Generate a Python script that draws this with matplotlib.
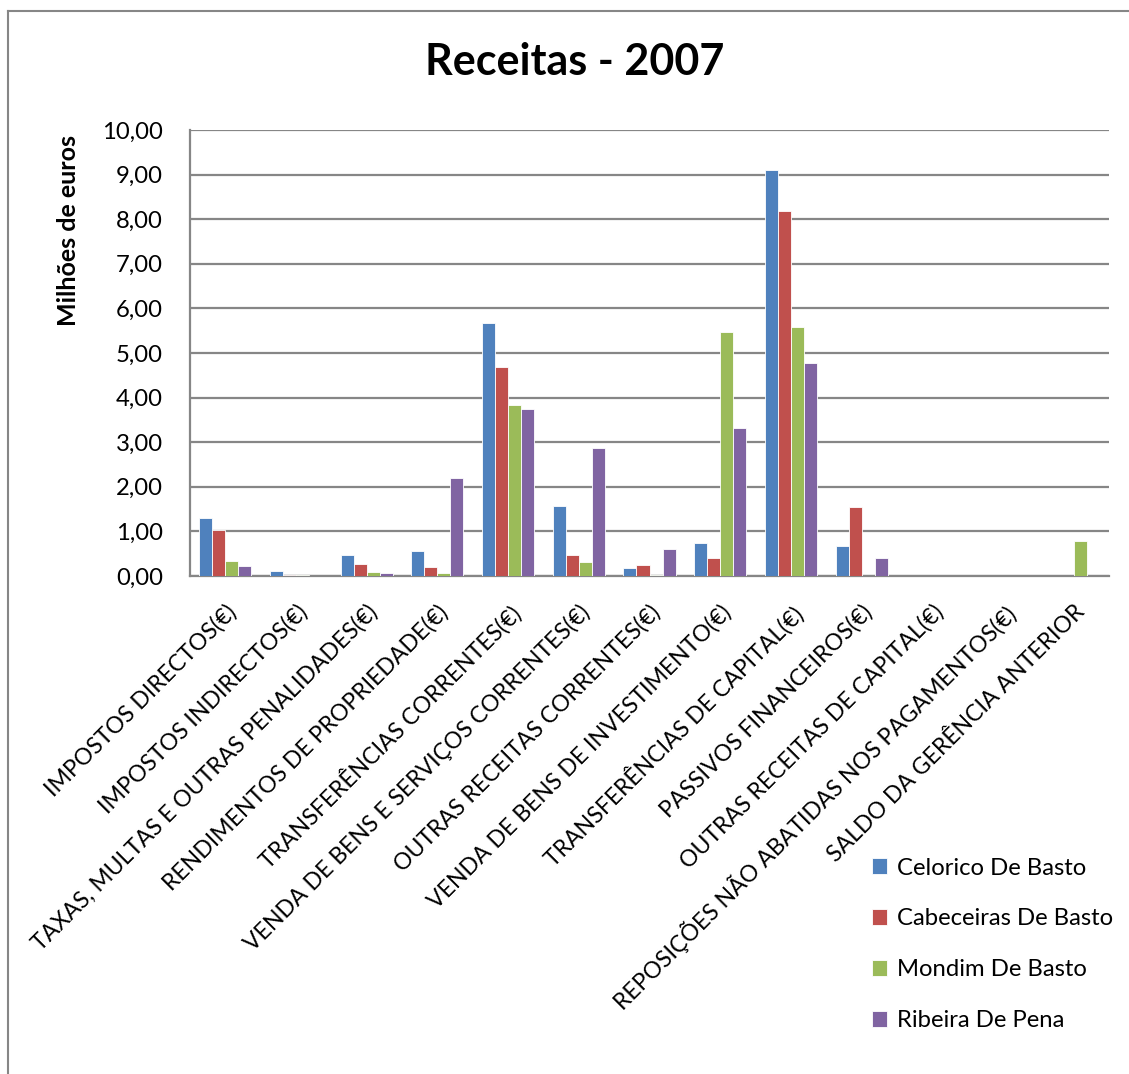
import numpy as np
import matplotlib
matplotlib.use("Agg")
import matplotlib.pyplot as plt
from matplotlib.lines import Line2D

plt.rcParams['font.family'] = ['Lato', 'DejaVu Sans']

# Data (millions of euros)
categories = [
    "IMPOSTOS DIRECTOS(€)",
    "IMPOSTOS INDIRECTOS(€)",
    "TAXAS, MULTAS E OUTRAS PENALIDADES(€)",
    "RENDIMENTOS DE PROPRIEDADE(€)",
    "TRANSFERÊNCIAS CORRENTES(€)",
    "VENDA DE BENS E SERVIÇOS CORRENTES(€)",
    "OUTRAS RECEITAS CORRENTES(€)",
    "VENDA DE BENS DE INVESTIMENTO(€)",
    "TRANSFERÊNCIAS DE CAPITAL(€)",
    "PASSIVOS FINANCEIROS(€)",
    "OUTRAS RECEITAS DE CAPITAL(€)",
    "REPOSIÇÕES NÃO ABATIDAS NOS PAGAMENTOS(€)",
    "SALDO DA GERÊNCIA ANTERIOR",
]
series_names = ["Celorico De Basto", "Cabeceiras De Basto", "Mondim De Basto", "Ribeira De Pena"]
celorico   = [1.30, 0.12, 0.47, 0.55, 5.67, 1.58, 0.17, 0.73, 9.10, 0.68, 0.00, 0.00, 0.00]
cabeceiras = [1.03, 0.03, 0.27, 0.21, 4.69, 0.46, 0.25, 0.40, 8.18, 1.55, 0.00, 0.00, 0.00]
mondim     = [0.34, 0.02, 0.08, 0.07, 3.83, 0.31, 0.03, 5.47, 5.59, 0.00, 0.00, 0.00, 0.79]
ribeira    = [0.23, 0.01, 0.06, 2.19, 3.75, 2.87, 0.60, 3.32, 4.78, 0.40, 0.00, 0.00, 0.00]
yticks = np.arange(0, 11, 1)

colors = ["#4F81BD", "#C0504D", "#9BBB59", "#8064A2"]
grid_col = "#868686"

fig = plt.figure(figsize=(11.29, 10.74), dpi=100)
ax = fig.add_axes([190 / 1129, 1 - 576 / 1074, (1109 - 190) / 1129, (576 - 130) / 1074])

x = np.arange(len(categories))
w = 0.184
for i, (vals, name) in enumerate(zip([celorico, cabeceiras, mondim, ribeira], series_names)):
    ax.bar(x + (i - 1.5) * w, vals, width=w, color=colors[i], label=name,
           edgecolor="white", linewidth=0.6, zorder=3)

ax.set_xlim(-0.5, len(categories) - 0.5)
ax.set_ylim(0, 10)
ax.set_yticks(yticks)
ax.set_yticklabels([f"{v:.2f}".replace(".", ",") for v in yticks], fontsize=17.2)
ax.yaxis.grid(True, color=grid_col, linewidth=1.6, zorder=0)
ax.set_axisbelow(True)
for s in ["top", "right"]:
    ax.spines[s].set_visible(False)
for s in ["left", "bottom"]:
    ax.spines[s].set_color(grid_col)
    ax.spines[s].set_linewidth(1.6)
ax.tick_params(axis="both", length=0)
ax.tick_params(axis="y", pad=19.5)

ax.set_xticks(x)
ax.set_xticklabels(categories, rotation=45, ha="right", va="top", rotation_mode="anchor", fontsize=16.6)
ax.tick_params(axis="x", pad=18)

fig.text(68 / 1129, 1 - 231 / 1074, "Milhões de euros", fontsize=18, fontweight="bold",
         rotation=90, ha="center", va="center")
fig.text(575 / 1129, 1 - 62 / 1074, "Receitas - 2007", fontsize=31, fontweight="bold",
         ha="center", va="center")

# chart area border (only left and top visible in the crop)
fig.add_artist(Line2D([8 / 1129, 8 / 1129], [0, 1 - 11 / 1074], color=grid_col, linewidth=1.5))
fig.add_artist(Line2D([8 / 1129, 1], [1 - 11 / 1074, 1 - 11 / 1074], color=grid_col, linewidth=1.5))

leg = fig.legend(loc="upper left", bbox_to_anchor=(862 / 1129, 1 - 848 / 1074), frameon=False,
                 fontsize=17.2, handlelength=0.65, handleheight=0.65, handletextpad=0.4,
                 labelspacing=1.25, borderaxespad=0)

fig.savefig("out.png", dpi=100)
